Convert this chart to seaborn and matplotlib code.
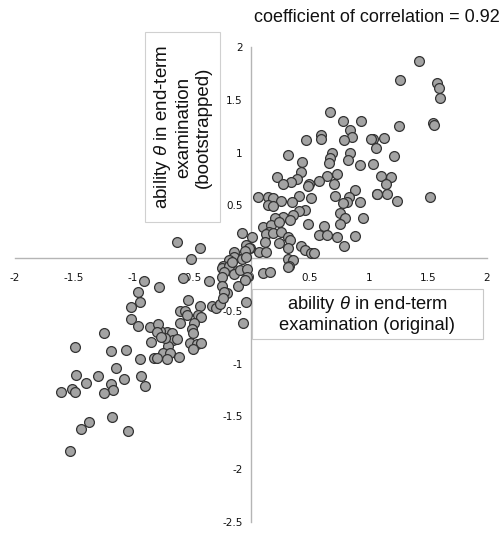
import matplotlib
matplotlib.use("Agg")
import matplotlib.pyplot as plt
import seaborn as sns
import pandas as pd
from matplotlib.patches import Rectangle

sns.set_style("white")
plt.rcParams['font.family'] = ['Liberation Sans', 'DejaVu Sans']
plt.rcParams['mathtext.fontset'] = 'custom'
plt.rcParams['mathtext.it'] = 'Liberation Sans:italic'
plt.rcParams['mathtext.rm'] = 'Liberation Sans'

# upper right quadrant
x_ur = [1.42, 1.26, 1.58, 1.59, 1.60, 1.54, 1.55, 1.25, 1.03, 1.13, 1.21, 1.10, 1.19, 1.14,
        1.07, 1.15, 1.24, 1.52,
        0.67, 0.78, 0.93, 0.84, 0.86, 0.79, 0.59, 0.59, 0.47, 1.02, 1.06, 0.31, 0.69, 0.67,
        0.66, 0.84, 0.82, 0.43, 0.92, 1.03, 0.22, 0.42, 0.64, 0.73, 0.39, 0.34, 0.27, 0.58,
        0.70, 0.49, 0.48, 0.88, 1.07, 0.51, 0.71, 0.83, 0.81, 0.78, 0.92, 0.41, 0.06, 0.14,
        0.19, 0.25, 0.14, 0.19, 0.35, 0.46, 0.41, 0.36, 0.27, 0.20, 0.33, 0.75, 0.80, 0.75,
        0.95, 0.48, 0.62, 0.58, 0.64, 0.73, 0.88, 0.79, 0.10, 0.17, 0.24, 0.15, 0.13, 0.19,
        0.25, 0.31, 0.33, 0.12, 0.24, 0.31, 0.42, 0.46, 0.51, 0.53, 0.07, 0.13, 0.01]
y_ur = [1.87, 1.69, 1.66, 1.61, 1.52, 1.28, 1.26, 1.25, 1.13, 1.14, 0.97, 0.78, 0.77, 0.70,
        0.61, 0.61, 0.54, 0.58,
        1.38, 1.30, 1.30, 1.21, 1.15, 1.12, 1.17, 1.13, 1.12, 1.13, 1.04, 0.98, 1.00, 0.95,
        0.90, 1.00, 0.93, 0.91, 0.88, 0.89, 0.77, 0.82, 0.78, 0.80, 0.75, 0.72, 0.70, 0.73,
        0.70, 0.70, 0.68, 0.65, 0.61, 0.57, 0.59, 0.58, 0.53, 0.52, 0.53, 0.59, 0.58, 0.58,
        0.57, 0.54, 0.50, 0.49, 0.53, 0.46, 0.45, 0.41, 0.39, 0.38, 0.36, 0.43, 0.38, 0.32,
        0.38, 0.32, 0.30, 0.22, 0.22, 0.20, 0.21, 0.11, 0.29, 0.31, 0.34, 0.25, 0.23, 0.24,
        0.25, 0.20, 0.17, 0.15, 0.14, 0.10, 0.11, 0.08, 0.05, 0.05, 0.06, 0.06, 0.20]

# points near the origin
x_mid = [-0.01, 0.31, 0.36, 0.32, 0.31, 0.10, 0.16, -0.63, -0.43, -0.51, -0.08, -0.04,
         -0.02, -0.05, -0.14, -0.14, -0.19, -0.08, -0.04, -0.24, -0.17]
y_mid = [0.10, -0.01, -0.02, -0.07, -0.08, -0.14, -0.13, 0.15, 0.10, -0.01, 0.24, 0.12,
         0.10, 0.07, 0.06, 0.01, -0.02, -0.01, 0.01, -0.07, -0.09]

# lower left quadrant
x_ll = [-0.36, -0.58, -0.25, -0.19, -0.16, -0.23, -0.25, -0.25, -0.14, -0.09, -0.03, -0.03,
        -0.11, -0.05, -0.20, -0.23, -0.04, -0.07, -0.53, -0.43, -0.33, -0.30, -0.26, -0.24,
        -0.60, -0.56, -0.54, -0.60, -0.45, -0.42, -0.48, -0.50, -0.49, -0.52, -0.46, -0.42,
        -0.71, -0.67, -0.77, -0.66, -0.70, -0.73, -0.63, -0.75, -0.69, -0.71, -0.61, -0.49,
        -0.91, -0.78, -0.96, -0.94, -1.02, -1.02, -0.96, -0.86, -0.79, -0.80, -0.85, -0.76,
        -1.25, -1.49, -1.19, -1.06, -0.94, -0.82, -0.80, -1.14, -1.48, -1.40, -1.30, -1.19,
        -1.17, -1.25, -1.08, -0.93, -0.90, -1.61, -1.52, -1.49, -1.44, -1.37, -1.18, -1.04,
        -1.53]
y_ll = [-0.22, -0.19, -0.09, -0.07, -0.04, -0.13, -0.18, -0.26, -0.15, -0.11, -0.10, -0.18,
        -0.26, -0.21, -0.33, -0.32, -0.42, -0.61, -0.40, -0.45, -0.45, -0.47, -0.43, -0.38,
        -0.50, -0.50, -0.54, -0.61, -0.54, -0.56, -0.61, -0.67, -0.71, -0.80, -0.81, -0.80,
        -0.70, -0.71, -0.69, -0.78, -0.83, -0.76, -0.77, -0.90, -0.90, -0.96, -0.94, -0.86,
        -0.22, -0.27, -0.32, -0.42, -0.46, -0.58, -0.64, -0.65, -0.62, -0.70, -0.79, -0.75,
        -0.71, -0.84, -0.88, -0.87, -0.96, -0.95, -0.95, -1.04, -1.11, -1.18, -1.12, -1.19,
        -1.25, -1.28, -1.15, -1.12, -1.21, -1.27, -1.24, -1.27, -1.62, -1.55, -1.51, -1.64,
        -1.83]

x_ticks = [-2, -1.5, -1, -0.5, 0, 0.5, 1, 1.5, 2]
y_ticks = [-2.5, -2, -1.5, -1, -0.5, 0, 0.5, 1, 1.5, 2]
x_tick_labels = ["-2", "-1.5", "-1", "-0.5", "0", "0.5", "1", "1.5", "2"]
y_tick_labels = ["-2.5", "-2", "-1.5", "-1", "-0.5", "0", "0.5", "1", "1.5", "2"]

title = "coefficient of correlation = 0.92"
xlabel = "ability $\\theta$ in end-term\nexamination (original)"
ylabel = "ability $\\theta$ in end-term\nexamination\n(bootstrapped)"

df = pd.DataFrame({"original": x_ur + x_mid + x_ll,
                   "bootstrapped": y_ur + y_mid + y_ll})

W, H = 504, 534
fig = plt.figure(figsize=(W / 100, H / 100), dpi=100)
ax = fig.add_axes([15 / W, 1 - 522 / H, (487 - 15) / W, (522 - 47) / H])

sns.scatterplot(data=df, x="original", y="bootstrapped", ax=ax, s=50,
                color="#a3a3a3", edgecolor="#333333", linewidth=0.9, zorder=3)

ax.set_xlim(-2, 2)
ax.set_ylim(-2.5, 2)
ax.set_xticks(x_ticks)
ax.set_xticklabels(x_tick_labels)
ax.set_yticks(y_ticks)
ax.set_yticklabels(y_tick_labels)
ax.set_xlabel("")
ax.set_ylabel("")

for s in ["top", "right"]:
    ax.spines[s].set_visible(False)
ax.spines["left"].set_position(("data", 0))
ax.spines["bottom"].set_position(("data", 0))
for s in ["left", "bottom"]:
    ax.spines[s].set_color("#b5b5b5")
    ax.spines[s].set_linewidth(1.0)
    ax.spines[s].set_zorder(1)

ax.tick_params(axis="x", direction="inout", length=6, width=1, color="#b5b5b5",
               pad=8, labelsize=7.5, labelcolor="#111111")
ax.tick_params(axis="y", direction="out", length=3, width=1, color="#b5b5b5",
               pad=3, labelsize=7.5, labelcolor="#111111")
for lab in ax.get_xticklabels() + ax.get_yticklabels():
    lab.set_fontfamily(["DejaVu Sans"])

# axis label boxes
fig.patches.append(Rectangle((145 / W, 1 - 222 / H), 75 / W, 190 / H,
                             transform=fig.transFigure, facecolor="white",
                             edgecolor="#d0d0d0", linewidth=0.8, zorder=5))
fig.text(182 / W, 1 - 127 / H, ylabel, rotation=90, ha="center", va="center",
         fontsize=13.5, linespacing=1.2, multialignment="center", zorder=6, color="#111111")

fig.patches.append(Rectangle((252 / W, 1 - 339 / H), 231 / W, 50 / H,
                             transform=fig.transFigure, facecolor="white",
                             edgecolor="#c8c8c8", linewidth=0.8, zorder=5))
fig.text(367 / W, 1 - 314 / H, xlabel, ha="center", va="center",
         fontsize=13.2, linespacing=1.2, multialignment="center", zorder=6, color="#111111")

fig.text(500 / W, 1 - 18 / H, title, ha="right", va="center", fontsize=13, color="#111111")

fig.savefig("out.png", dpi=100)
